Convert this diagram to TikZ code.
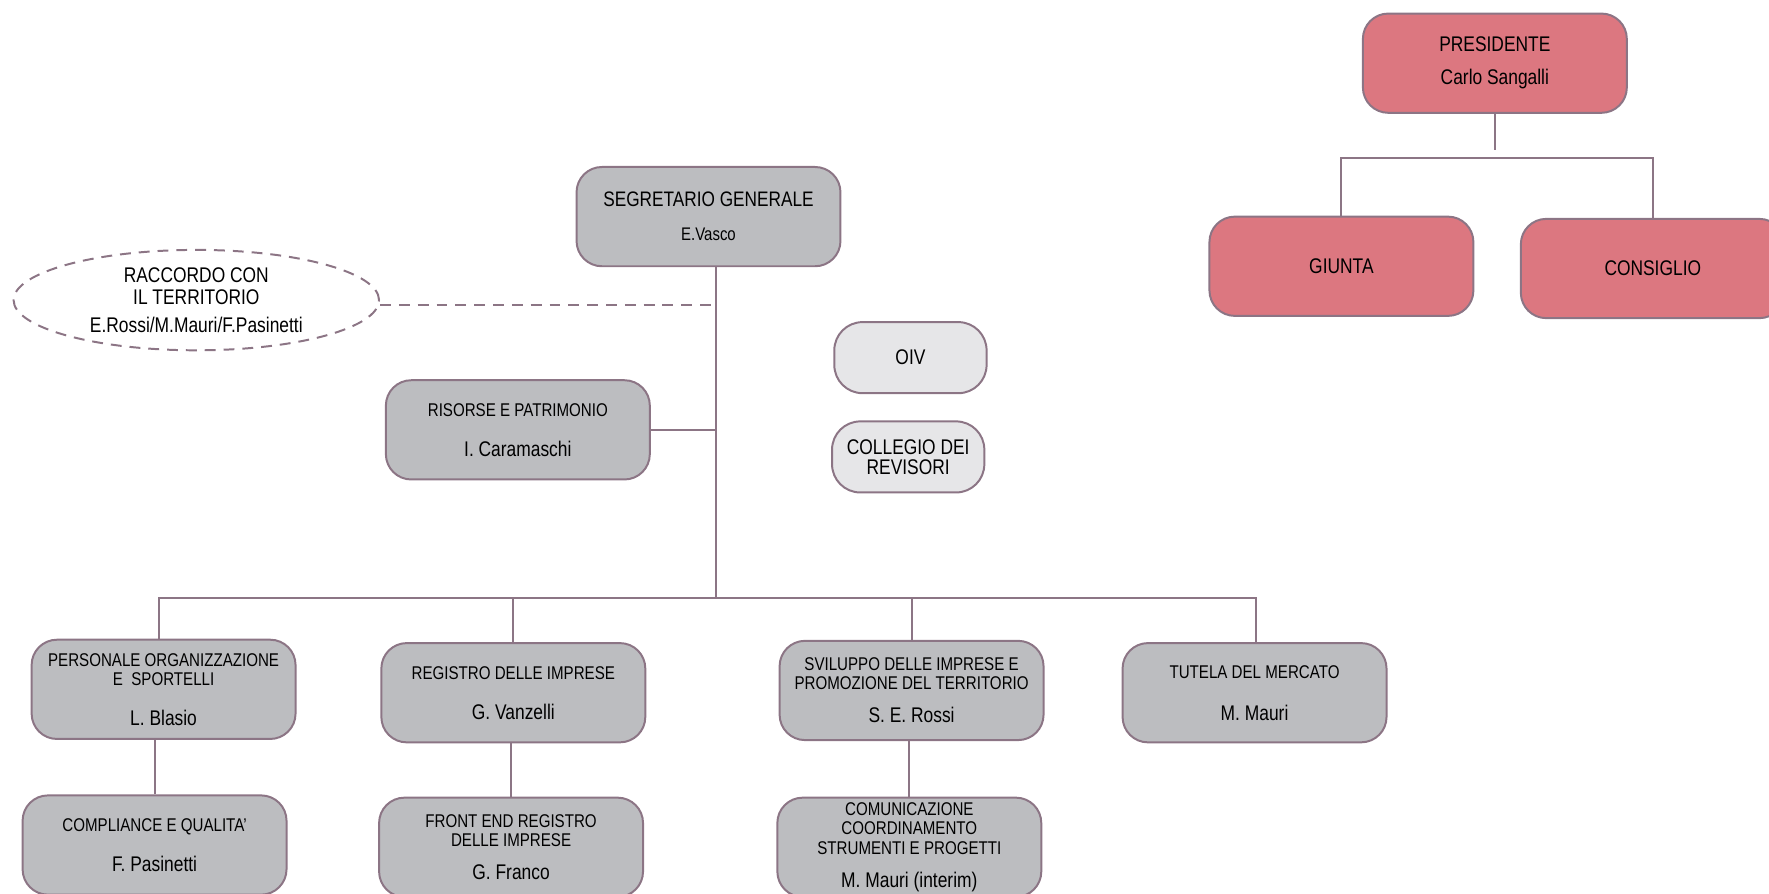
\documentclass[tikz,border=0pt]{standalone}
\usepackage{fontspec}
\setmainfont{Liberation Sans}[FakeStretch=0.82]
\usetikzlibrary{shapes.geometric}

\definecolor{edgemauve}{HTML}{8C7585}
\definecolor{unitgray}{HTML}{BCBDC0}
\definecolor{boardpink}{HTML}{DC7780}
\definecolor{auxgray}{HTML}{E6E6E8}

\newcommand{\nm}[1]{{\fontsize{10.7}{9.7}\selectfont #1}}

\begin{document}
\begin{tikzpicture}[x=0.02cm,y=-0.02cm,
  office/.style={rectangle,draw=edgemauve,line width=1pt,fill=unitgray,rounded corners=0.45cm,
    minimum width=4.68cm,minimum height=1.76cm,inner sep=0pt,align=center,font=\fontsize{9.3}{9.7}\selectfont},
  board/.style={office,fill=boardpink,font=\fontsize{10.7}{9.7}\selectfont},
  organ/.style={office,fill=auxgray,minimum width=2.7cm,minimum height=1.26cm,rounded corners=0.5cm,
    font=\fontsize{10.7}{10.2}\selectfont},
  link/.style={draw=edgemauve,line width=1pt}]
\useasboundingbox (0,0) rectangle (1568,792);

% Presidenza
\node[board] at(1325,56) (pres) {PRESIDENTE\\[7pt]\nm{Carlo Sangalli}};
\node[board] at(1189,236) (giunta) {GIUNTA};
\node[board] at(1465,238) (cons) {CONSIGLIO};
\coordinate (hl) at(1190,140);

\draw[link] (pres.south) -- ++(0,32);
\draw[link] (giunta.north) -- (giunta.north |- hl) -- (cons.north |- hl) -- (cons.north);

% Segreteria
\node[office,font=\fontsize{10.6}{9.7}\selectfont] at(628,192) (seg) {SEGRETARIO GENERALE\\[7.5pt]{\fontsize{9.2}{9.7}\selectfont E.Vasco}};
\node[ellipse,draw=edgemauve,line width=1pt,dash pattern=on 5.5pt off 4pt,minimum width=6.48cm,minimum height=1.78cm,
  inner sep=0pt,align=center,font=\fontsize{10.7}{11.4}\selectfont] at(174,266) (racc) {RACCORDO CON\\IL TERRITORIO\\[2.8pt]E.Rossi/M.Mauri/F.Pasinetti};
\node[office] at(459,381) (ris) {RISORSE E PATRIMONIO\\[10.5pt]\nm{I. Caramaschi}};

%organi
\node[organ] at(807,317) (oiv) {OIV};
\node[organ] at(805,405) (coll) {COLLEGIO DEI\\REVISORI};

\coordinate (trunk) at(635,530);
\coordinate (busl) at(141,530);
\coordinate (busr) at(1113,530);

\draw[link] (seg.south -| trunk) -- (trunk);
\draw[link,dash pattern=on 5.5pt off 4pt] ([yshift=-0.09cm]racc.east) -- ([yshift=-0.09cm]racc.east -| trunk);
\draw[link] (ris.east) -- (ris.east -| trunk);

%level 2
\node[office] at(145,611) (pers) {PERSONALE ORGANIZZAZIONE\\E\ \ SPORTELLI\\[10.2pt]\nm{L. Blasio}};
\node[office] at(455,614) (reg) {REGISTRO DELLE IMPRESE\\[10.5pt]\nm{G. Vanzelli}};
\node[office] at(808,612) (svil) {SVILUPPO DELLE IMPRESE E\\PROMOZIONE DEL TERRITORIO\\[7pt]\nm{S. E. Rossi}};
\node[office] at(1112,614) (tut) {TUTELA DEL MERCATO\\[11.5pt]\nm{M. Mauri}};

\draw[link] (pers.north -| busl) -- (busl) -- (busr) -- (tut.north -| busr);
\draw[link] (reg.north) -- (reg.north |- busl);
\draw[link] (svil.north) -- (svil.north |- busl);

%level 3
\node[office] at(137,749) (comp) {COMPLIANCE E QUALITA'\\[10.5pt]\nm{F. Pasinetti}};
\node[office] at(453,751) (front) {FRONT END REGISTRO\\DELLE IMPRESE\\[7pt]\nm{G. Franco}};
\node[office] at(806,751) (comu) {COMUNICAZIONE\\COORDINAMENTO\\STRUMENTI E PROGETTI\\[7pt]\nm{M. Mauri (interim)}};

\draw[link] (comp.north) -- (comp.north |- pers.south);
\draw[link] (front.north) -- (front.north |- reg.south);
\draw[link] (comu.north) -- (comu.north |- svil.south);

\end{tikzpicture}
\end{document}
